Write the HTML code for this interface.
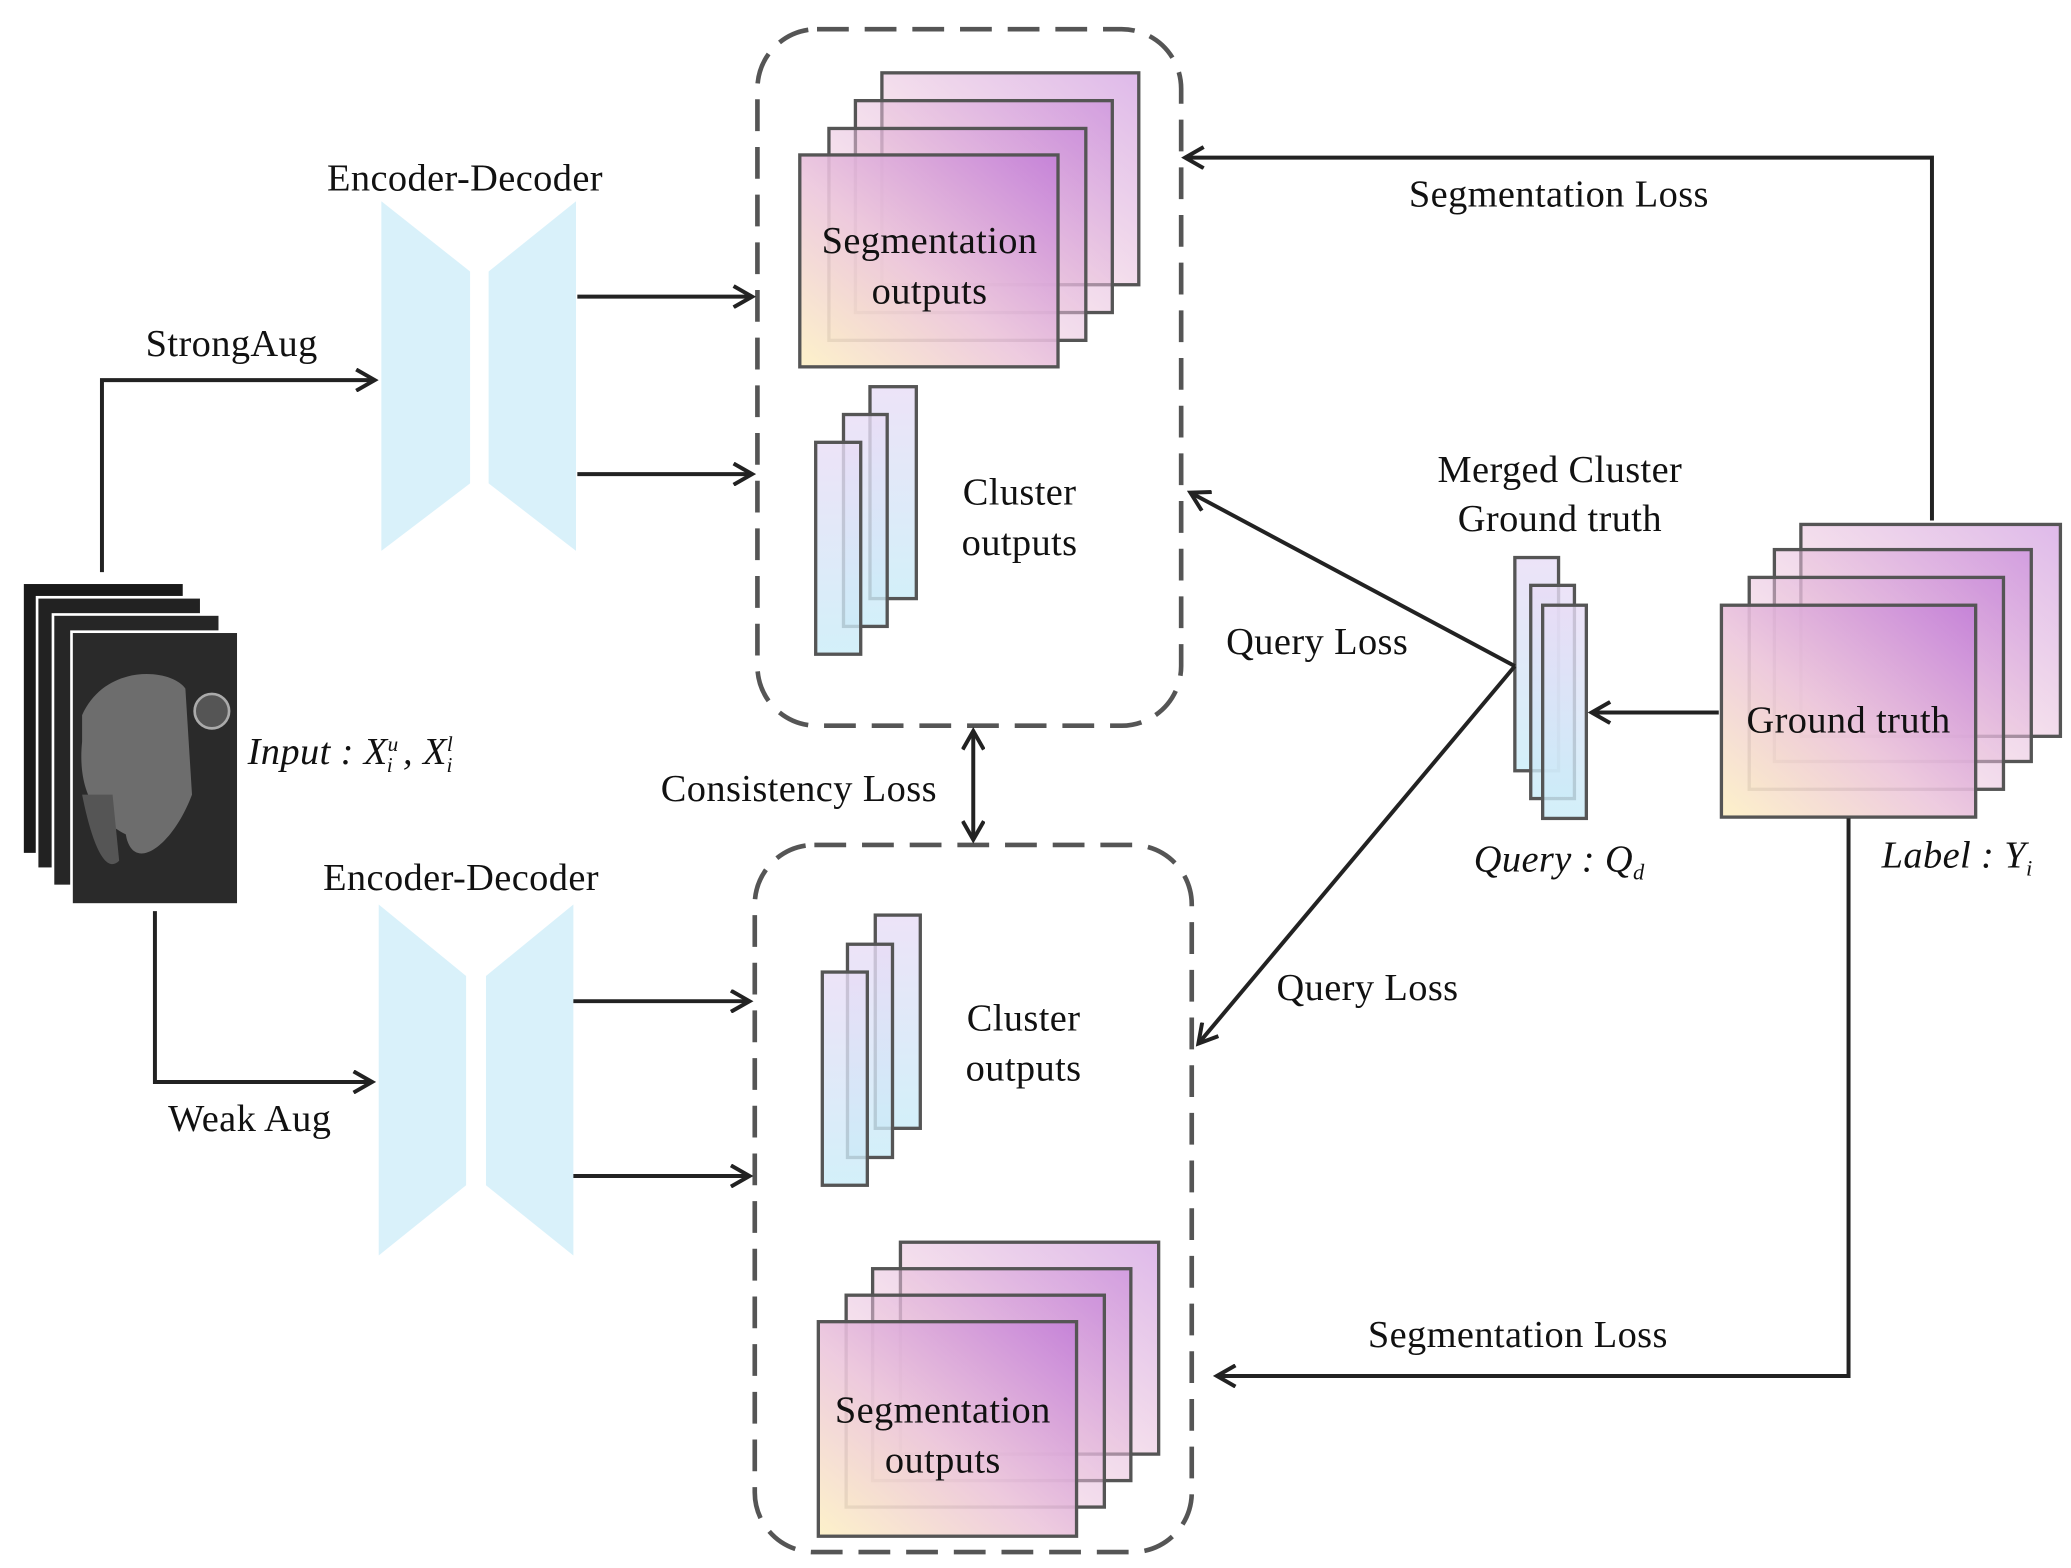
<!DOCTYPE html><html><head><style>html,body{margin:0;padding:0;background:#fff}svg{display:block}text{font-family:"Liberation Serif",serif;font-size:29px;fill:#111;letter-spacing:0.3px}</style></head><body>
<svg width="2071" height="1568" viewBox="0 0 1564 1184" preserveAspectRatio="none" xmlns="http://www.w3.org/2000/svg">
<defs>
<linearGradient id="sg" x1="0" y1="1" x2="1" y2="0"><stop offset="0" stop-color="#fdf0c4"/><stop offset="0.45" stop-color="#ecc6dc"/><stop offset="1" stop-color="#c480d8"/></linearGradient>
<linearGradient id="cg" x1="0" y1="0" x2="0" y2="1"><stop offset="0" stop-color="#e8dcf6"/><stop offset="1" stop-color="#c8ecf8"/></linearGradient>
<marker id="ah" markerWidth="18" markerHeight="18" refX="15" refY="9" orient="auto" markerUnits="userSpaceOnUse"><path d="M1,1 L15,9 L1,17" fill="none" stroke="#222" stroke-width="3"/></marker>
<marker id="ahs" markerWidth="18" markerHeight="18" refX="3" refY="9" orient="auto" markerUnits="userSpaceOnUse"><path d="M17,1 L3,9 L17,17" fill="none" stroke="#222" stroke-width="3"/></marker>
</defs>
<g fill="none" stroke="#555" stroke-width="3.5" stroke-dasharray="24,12">
<rect x="572" y="22" width="320" height="526" rx="45"/>
<rect x="570" y="638" width="330" height="534" rx="45"/>
</g>
<g stroke="#fff" stroke-width="2">
<rect x="17" y="440" width="122" height="205" fill="#1a1a1a"/>
<rect x="28" y="451" width="124" height="205" fill="#222"/>
<rect x="40" y="464" width="126" height="205" fill="#262626"/>
<rect x="54" y="477" width="126" height="206" fill="#2a2a2a"/>
</g>
<path d="M62,540 C80,500 130,505 140,520 L145,600 C130,640 100,660 95,630 C75,620 58,600 62,560Z" fill="#6d6d6d"/>
<path d="M62,600 C70,640 80,660 90,650 L85,600Z" fill="#555"/>
<circle cx="160" cy="537" r="13" fill="#555" stroke="#aaa" stroke-width="2"/>
<g fill="#d9f1fa">
<polygon points="288,152 355,205 355,365 288,416"/><polygon points="369,205 435,152 435,416 369,365"/>
<polygon points="286,683 352,737 352,895 286,948"/><polygon points="367,737 433,683 433,948 367,895"/>
</g>
<g stroke="#555" stroke-width="2.5" fill="url(#sg)" fill-opacity="0.55">
<rect x="666" y="55" width="194" height="160"/><rect x="646" y="76" width="194" height="160"/><rect x="626" y="97" width="194" height="160"/><rect x="604" y="117" width="195" height="160" fill-opacity="0.9"/>
<rect x="680" y="938" width="195" height="160"/><rect x="659" y="958" width="195" height="160"/><rect x="639" y="978" width="195" height="160"/><rect x="618" y="998" width="195" height="162" fill-opacity="0.9"/>
<rect x="1360" y="396" width="196" height="160"/><rect x="1340" y="415" width="194" height="160"/><rect x="1321" y="436" width="192" height="160"/><rect x="1300" y="457" width="192" height="160" fill-opacity="0.9"/>
</g>
<g stroke="#555" stroke-width="2.5" fill="url(#cg)" fill-opacity="0.8">
<rect x="657" y="292" width="35" height="160"/><rect x="637" y="313" width="33" height="160"/><rect x="616" y="334" width="34" height="160"/>
<rect x="661" y="691" width="34" height="161"/><rect x="640" y="713" width="34" height="161"/><rect x="621" y="734" width="34" height="161"/>
<rect x="1144" y="421" width="33" height="161"/><rect x="1156" y="442" width="33" height="161"/><rect x="1165" y="457" width="33" height="161"/>
</g>
<g stroke="#222" stroke-width="3" fill="none">
<line x1="436" y1="224" x2="568" y2="224" marker-end="url(#ah)"/>
<line x1="436" y1="358" x2="568" y2="358" marker-end="url(#ah)"/>
<line x1="433" y1="756" x2="566" y2="756" marker-end="url(#ah)"/>
<line x1="433" y1="888" x2="566" y2="888" marker-end="url(#ah)"/>
<polyline points="77,432 77,287 283,287" marker-end="url(#ah)"/>
<polyline points="117,688 117,817 281,817" marker-end="url(#ah)"/>
<polyline points="1459,393 1459,119 895,119" marker-end="url(#ah)"/>
<polyline points="1396,618 1396,1039 919,1039" marker-end="url(#ah)"/>
<line x1="1298" y1="538" x2="1202" y2="538" marker-end="url(#ah)"/>
<line x1="1144" y1="503" x2="899" y2="372" marker-end="url(#ah)"/>
<line x1="1144" y1="503" x2="905" y2="788" marker-end="url(#ah)"/>
<line x1="735" y1="552" x2="735" y2="634" marker-start="url(#ahs)" marker-end="url(#ah)"/>
</g>
<text x="247" y="144">Encoder-Decoder</text>
<text x="244" y="672">Encoder-Decoder</text>
<text x="110" y="269">StrongAug</text>
<text x="127" y="854">Weak Aug</text>
<text x="702" y="191" text-anchor="middle">Segmentation</text>
<text x="702" y="229" text-anchor="middle">outputs</text>
<text x="712" y="1074" text-anchor="middle">Segmentation</text>
<text x="712" y="1112" text-anchor="middle">outputs</text>
<text x="770" y="381" text-anchor="middle">Cluster</text>
<text x="770" y="419" text-anchor="middle">outputs</text>
<text x="773" y="778" text-anchor="middle">Cluster</text>
<text x="773" y="816" text-anchor="middle">outputs</text>
<text x="1064" y="156">Segmentation Loss</text>
<text x="1033" y="1017">Segmentation Loss</text>
<text x="926" y="494">Query Loss</text>
<text x="964" y="755">Query Loss</text>
<text x="499" y="605">Consistency Loss</text>
<text x="1178" y="364" text-anchor="middle">Merged Cluster</text>
<text x="1178" y="401" text-anchor="middle">Ground truth</text>
<text x="1396" y="553" text-anchor="middle">Ground truth</text>
<text x="187" y="577" font-style="italic">Input : X<tspan font-size="16" dy="-10">u</tspan><tspan font-size="16" dx="-9" dy="16">i</tspan><tspan dy="-6"> , X</tspan><tspan font-size="16" dy="-10">l</tspan><tspan font-size="16" dx="-5" dy="16">i</tspan></text>
<text x="1113" y="658" font-style="italic">Query : Q<tspan font-size="17" dy="6">d</tspan></text>
<text x="1421" y="655" font-style="italic">Label : Y<tspan font-size="17" dy="6">i</tspan></text>
</svg>
</body></html>
